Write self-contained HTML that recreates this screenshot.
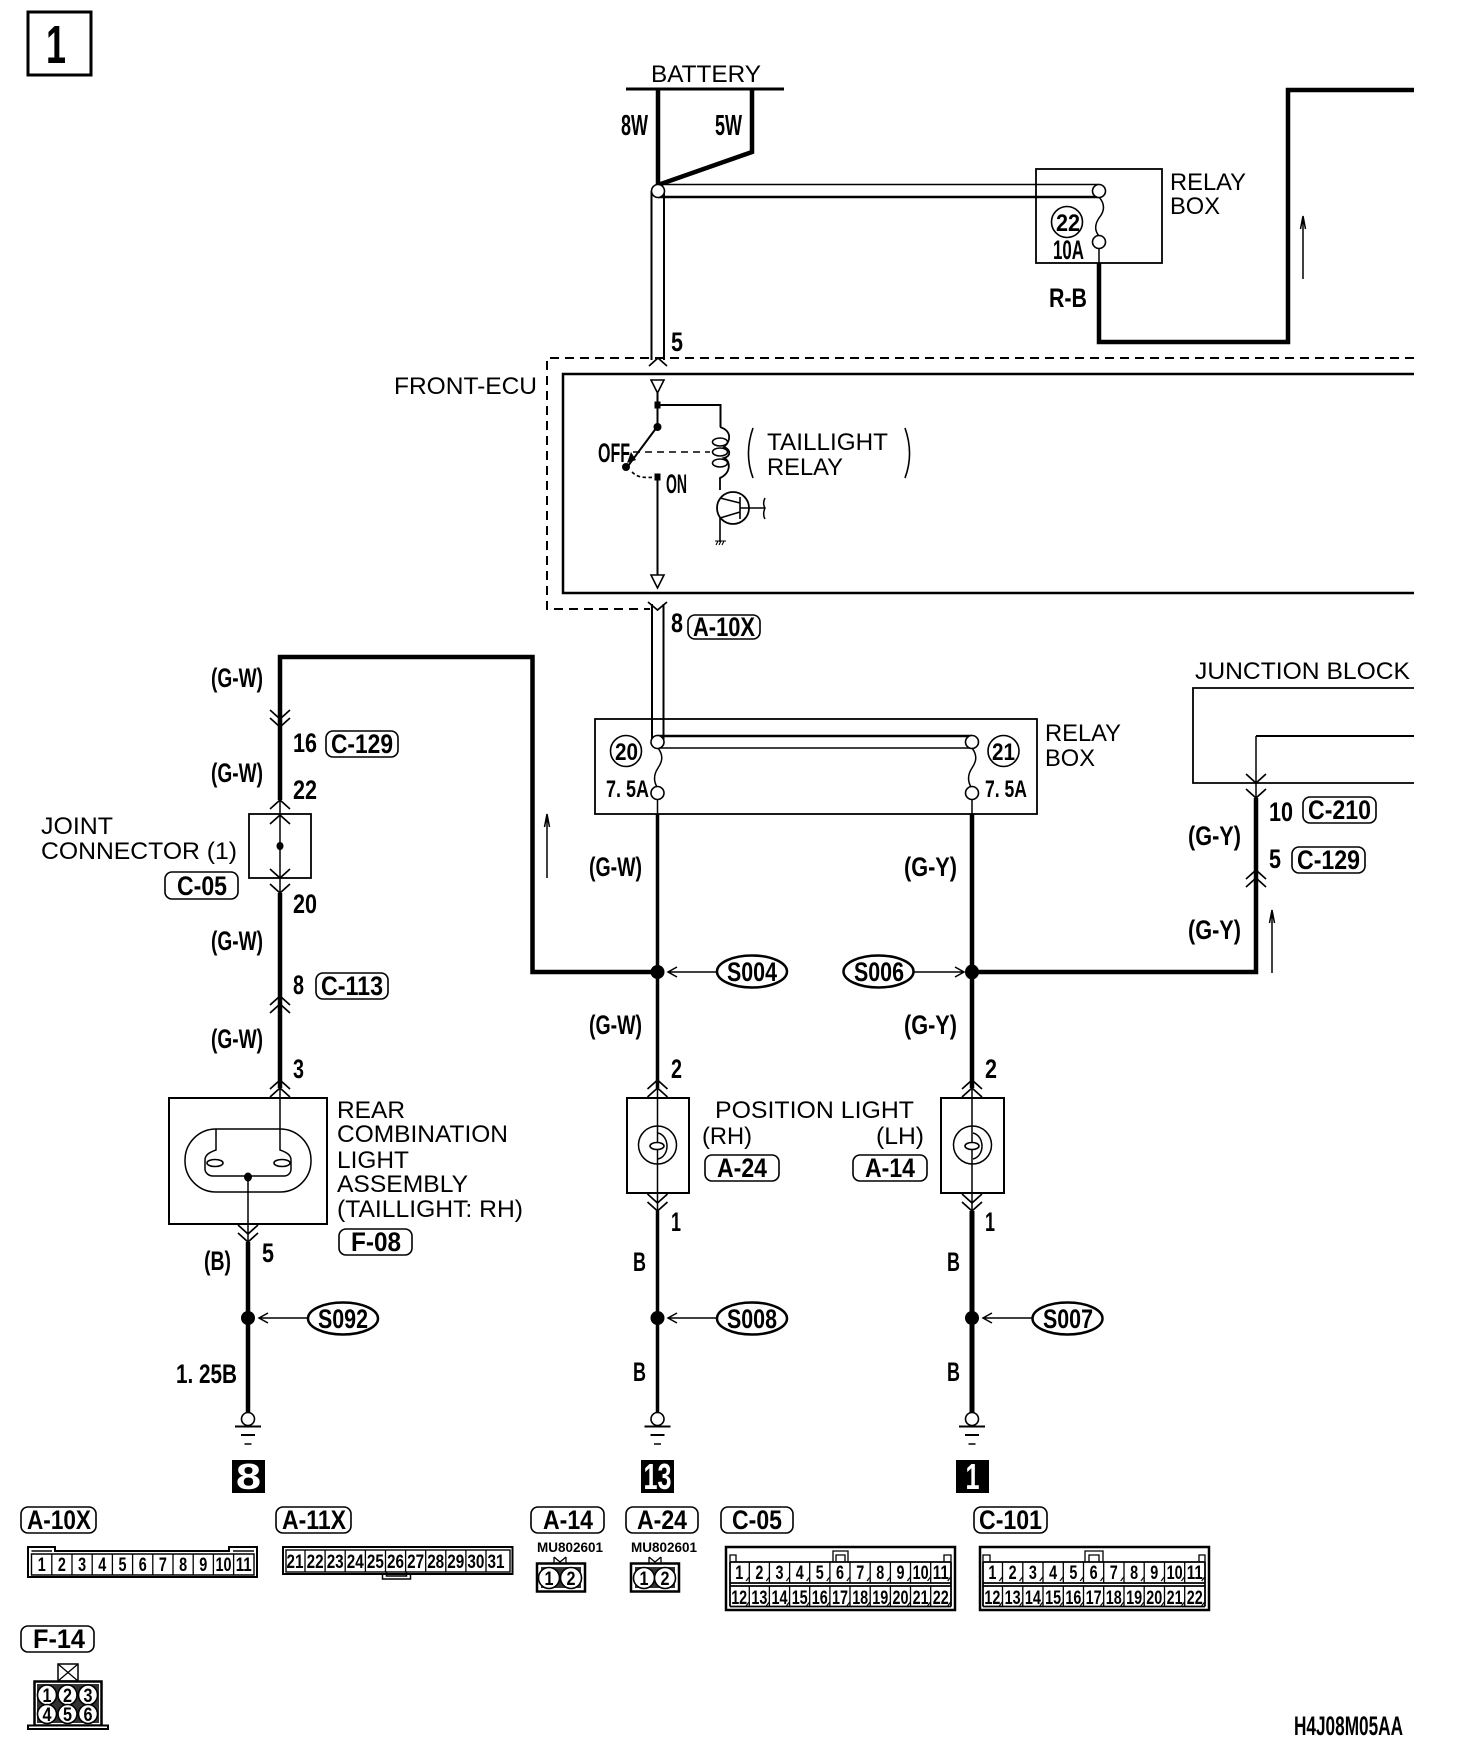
<!DOCTYPE html>
<html><head><meta charset="utf-8"><style>
html,body{margin:0;padding:0;background:#fff}
svg{display:block}
text{font-family:"Liberation Sans",sans-serif;fill:#000}
.t{font-size:24px}
.b{font-size:26.5px;font-weight:bold}
.s{font-size:24px}
.h{font-size:29px}
.c{font-size:19.5px;font-weight:bold;text-anchor:middle}
.m{font-size:14px;font-weight:bold}
.w{fill:#fff;font-size:36px;font-weight:bold;text-anchor:middle}
.l{fill:#fff;stroke:#000;stroke-width:1.6}
.k{fill:none;stroke:#000;stroke-width:1.6}
.th{fill:none;stroke:#000;stroke-width:4.5;stroke-linejoin:miter}
.n{fill:none;stroke:#000;stroke-width:1.5}
</style></head><body>
<svg xmlns="http://www.w3.org/2000/svg" width="1472" height="1754" viewBox="0 0 1472 1754">
<defs>
<path id="cd" d="M-10 -9 L0 0 L10 -9" fill="none" stroke="#000" stroke-width="1.7"/>
<path id="cu" d="M-10 9 L0 0 L10 9" fill="none" stroke="#000" stroke-width="1.7"/>
<g id="gnd"><circle cx="0" cy="0" r="6.5" fill="#fff" stroke="#000" stroke-width="1.6"/><path d="M-13 7.5H13" stroke="#000" stroke-width="2"/><path d="M-7 16H7" stroke="#000" stroke-width="2"/><path d="M-3.5 25H3.5" stroke="#000" stroke-width="1.5"/></g>
<pattern id="tk1" x="729.100" y="1562" width="20.160" height="25" patternUnits="userSpaceOnUse"><path d="M17 19L20 15" stroke="#000" stroke-width="1.200" fill="none"/></pattern>
<pattern id="tk2" x="982.300" y="1562" width="20.240" height="25" patternUnits="userSpaceOnUse"><path d="M17 19L20 15" stroke="#000" stroke-width="1.200" fill="none"/></pattern>
</defs>

<!-- page number box -->
<rect x="28" y="12" width="63" height="63" fill="none" stroke="#000" stroke-width="3"/>
<text x="56" y="63" font-size="54" text-anchor="middle" font-weight="bold" textLength="20" lengthAdjust="spacingAndGlyphs">1</text>

<!-- battery -->
<text class="t" x="651" y="82" textLength="110" lengthAdjust="spacingAndGlyphs">BATTERY</text>
<path d="M626 89H784" stroke="#000" stroke-width="3"/>
<path class="th" d="M658 89V185L752 152V89" stroke-width="4"/>
<text class="b h" x="621" y="135" textLength="27" lengthAdjust="spacingAndGlyphs">8W</text>
<text class="b h" x="715" y="135" textLength="27" lengthAdjust="spacingAndGlyphs">5W</text>

<!-- double wire -->
<path d="M658 184.5H1099" stroke="#000" stroke-width="1.5"/>
<path d="M658 197H1099" stroke="#000" stroke-width="2.5"/>
<path d="M651.5 191V360M664 191V360" stroke="#000" stroke-width="2"/>
<circle class="l" cx="658" cy="191" r="6.5"/>
<text class="b" x="671" y="351" textLength="12" lengthAdjust="spacingAndGlyphs">5</text>
<path d="M649 366L658 358L667 366" fill="none" stroke="#000" stroke-width="1.7"/>

<!-- relay box 22 -->
<rect x="1036" y="169" width="126" height="94" fill="none" stroke="#000" stroke-width="1.8"/>
<path d="M1099 197C1106 205 1104 212 1099 218C1095 224 1094 230 1099 236" class="n"/>
<circle class="l" cx="1099" cy="191" r="6.5"/>
<circle class="l" cx="1099" cy="242" r="6.5"/>
<path d="M1099 248V263" class="n"/>
<circle class="k" cx="1067" cy="222" r="15.5"/>
<text class="b s" x="1056" y="231" textLength="24" lengthAdjust="spacingAndGlyphs">22</text>
<text class="b" x="1053" y="259" textLength="31" lengthAdjust="spacingAndGlyphs">10A</text>
<text class="t" x="1170" y="190" textLength="76" lengthAdjust="spacingAndGlyphs">RELAY</text>
<text class="t" x="1170" y="214" textLength="50" lengthAdjust="spacingAndGlyphs">BOX</text>
<text class="b" x="1049" y="307" textLength="38" lengthAdjust="spacingAndGlyphs">R-B</text>
<path class="th" d="M1099 263V342H1288V90H1414" stroke-width="5"/>
<path d="M1303 279V216M1300.5 229L1303 216L1305.5 229" class="n"/>

<!-- ECU -->
<path d="M1414 358H547V609H650" fill="none" stroke="#000" stroke-width="2" stroke-dasharray="9 6"/>
<path d="M1414 374H563V593H1414" fill="none" stroke="#000" stroke-width="2.5"/>
<text class="t" x="394" y="394" textLength="143" lengthAdjust="spacingAndGlyphs">FRONT-ECU</text>

<path d="M651 380H664L657.5 393Z" fill="#fff" stroke="#000" stroke-width="1.6"/>
<path d="M651 575H664L657.5 588Z" fill="#fff" stroke="#000" stroke-width="1.6"/>
<path d="M657.5 393V427" stroke="#000" stroke-width="2"/>
<path d="M657.5 477V575" stroke="#000" stroke-width="2"/>
<path d="M657.5 405H720.500V427" fill="none" stroke="#000" stroke-width="2"/>
<rect x="654.500" y="401.500" width="6" height="7" />
<rect x="654.500" y="473.500" width="6" height="7" />
<circle cx="657.500" cy="427" r="4"/>
<circle cx="626" cy="467" r="4"/>
<path d="M657 427L628 466" stroke="#000" stroke-width="2"/>
<path d="M631 452L636 460L627 463Z"/>
<path d="M632 472C638 478 645 478 655 477" fill="none" stroke="#000" stroke-width="1.6" stroke-dasharray="3.500 2.500"/>
<path d="M633 452H710" stroke="#000" stroke-width="1.4" stroke-dasharray="7 5"/>
<path d="M720 427C732 431 731 441 724 447C731 450 731 456 724 458C731 461 731 473 720 478V490" fill="none" stroke="#000" stroke-width="1.800"/>
<ellipse class="k" cx="720" cy="442" rx="7.500" ry="4"/>
<ellipse class="k" cx="720" cy="452" rx="7.500" ry="4"/>
<ellipse class="k" cx="720" cy="463" rx="7.500" ry="4"/>
<text class="b" x="598" y="462" textLength="32" lengthAdjust="spacingAndGlyphs">OFF</text>
<text class="b" x="666" y="493" textLength="21" lengthAdjust="spacingAndGlyphs">ON</text>
<circle cx="733" cy="508" r="16" fill="none" stroke="#000" stroke-width="1.800"/>
<path d="M740 497V519M740 508H765M720 498L740 503M740 512L720 518M720 518V542" fill="none" stroke="#000" stroke-width="1.600"/>
<path d="M765 498C762 504 765 508 765 508C765 508 762 514 765 519" class="n"/>
<path d="M715 541H726M716 545L718 541M719 545L721 541M722 545L724 541" stroke="#000" stroke-width="1.100" fill="none"/>
<path d="M753 428C747 445 747 462 753 478" fill="none" stroke="#000" stroke-width="1.600"/>
<path d="M905 428C911 445 911 462 905 478" fill="none" stroke="#000" stroke-width="1.600"/>
<text class="t" x="767" y="450" textLength="121" lengthAdjust="spacingAndGlyphs">TAILLIGHT</text>
<text class="t" x="767" y="475" textLength="76" lengthAdjust="spacingAndGlyphs">RELAY</text>

<!-- double wire lower -->
<path d="M648 602L657.500 610L667 602" fill="none" stroke="#000" stroke-width="1.700"/>
<path d="M652 604V741M663.500 604V741" stroke="#000" stroke-width="2"/>
<text class="b" x="671" y="632" textLength="12" lengthAdjust="spacingAndGlyphs">8</text>
<rect class="k" x="688" y="615" width="72" height="24" rx="7"/>
<text class="b" x="693" y="636" textLength="62" lengthAdjust="spacingAndGlyphs">A-10X</text>

<!-- relay box 20 / 21 -->
<rect x="595" y="719" width="442" height="95" fill="none" stroke="#000" stroke-width="1.800"/>
<path d="M657 736H972" stroke="#000" stroke-width="2.500"/>
<path d="M657 748H972" stroke="#000" stroke-width="1.500"/>
<circle class="l" cx="657.500" cy="742" r="6.500"/>
<circle class="l" cx="657.500" cy="793" r="6.500"/>
<circle class="l" cx="972" cy="742" r="6.500"/>
<circle class="l" cx="972" cy="793" r="6.500"/>
<path d="M658 748C664 756 662 762 658 768C654 774 653 780 657 787" class="n"/>
<path d="M972 748C978 756 976 762 972 768C968 774 967 780 971 787" class="n"/>
<circle class="k" cx="626" cy="751" r="15.500"/>
<circle class="k" cx="1003.500" cy="751" r="15.500"/>
<text class="b s" x="615" y="760" textLength="23" lengthAdjust="spacingAndGlyphs">20</text>
<text class="b s" x="992" y="760" textLength="23" lengthAdjust="spacingAndGlyphs">21</text>
<text class="b s" x="606" y="797" textLength="43" lengthAdjust="spacingAndGlyphs">7. 5A</text>
<text class="b s" x="985" y="797" textLength="42" lengthAdjust="spacingAndGlyphs">7. 5A</text>
<text class="t" x="1045" y="741" textLength="76" lengthAdjust="spacingAndGlyphs">RELAY</text>
<text class="t" x="1045" y="766" textLength="50" lengthAdjust="spacingAndGlyphs">BOX</text>
<path d="M657.500 799V814M972 799V814" class="n"/>

<!-- left G-W wire -->
<path class="th" d="M280 727V657H532.500V972H657"/>
<path d="M547 878V814M544.500 827L547 814L549.500 827" class="n"/>
<path class="th" d="M280 727V800"/>
<use href="#cd" x="280" y="719"/><use href="#cd" x="280" y="727"/>
<rect x="249" y="814" width="62" height="64" fill="#fff" stroke="#000" stroke-width="1.800"/>
<path d="M280 800V893" class="n"/>
<ellipse cx="280" cy="846" rx="3.500" ry="4"/>
<use href="#cu" x="280" y="800"/><use href="#cu" x="280" y="815"/>
<use href="#cd" x="280" y="878"/><use href="#cd" x="280" y="893"/>
<path class="th" d="M280 893V1088"/>
<use href="#cu" x="280" y="996"/><use href="#cu" x="280" y="1004"/>
<use href="#cu" x="280" y="1080"/><use href="#cu" x="280" y="1088"/>

<text class="b" x="211" y="687" textLength="52" lengthAdjust="spacingAndGlyphs">(G-W)</text>
<text class="b" x="211" y="782" textLength="52" lengthAdjust="spacingAndGlyphs">(G-W)</text>
<text class="b" x="211" y="950" textLength="52" lengthAdjust="spacingAndGlyphs">(G-W)</text>
<text class="b" x="211" y="1048" textLength="52" lengthAdjust="spacingAndGlyphs">(G-W)</text>
<text class="b" x="293" y="752" textLength="24" lengthAdjust="spacingAndGlyphs">16</text>
<rect class="k" x="326" y="731" width="72" height="26" rx="7"/>
<text class="b" x="331" y="753" textLength="62" lengthAdjust="spacingAndGlyphs">C-129</text>
<text class="b" x="293" y="799" textLength="24" lengthAdjust="spacingAndGlyphs">22</text>
<text class="b" x="293" y="913" textLength="24" lengthAdjust="spacingAndGlyphs">20</text>
<text class="b" x="293" y="994" textLength="11" lengthAdjust="spacingAndGlyphs">8</text>
<rect class="k" x="316" y="973" width="72" height="26" rx="7"/>
<text class="b" x="321" y="995" textLength="62" lengthAdjust="spacingAndGlyphs">C-113</text>
<text class="b" x="293" y="1078" textLength="11" lengthAdjust="spacingAndGlyphs">3</text>
<text class="t" x="41" y="834" textLength="72" lengthAdjust="spacingAndGlyphs">JOINT</text>
<text class="t" x="41" y="859" textLength="196" lengthAdjust="spacingAndGlyphs">CONNECTOR (1)</text>
<rect class="k" x="165" y="872" width="73" height="27" rx="7"/>
<text class="b" x="177" y="895" textLength="50" lengthAdjust="spacingAndGlyphs">C-05</text>

<!-- rear combination light -->
<rect x="169" y="1098" width="158" height="126" fill="none" stroke="#000" stroke-width="2"/>
<rect class="n" x="185" y="1129" width="126" height="63" rx="31" ry="31"/>
<path d="M280 1088V1150C285 1152 291 1154 291 1160V1169C291 1173 288 1176 284 1176H213C209 1176 205 1173 205 1169V1160C205 1154 211 1152 216 1150V1129" class="n"/>
<ellipse class="l" cx="215" cy="1163" rx="8" ry="3.500" fill="#fff"/>
<ellipse class="l" cx="282" cy="1163" rx="8" ry="3.500" fill="#fff"/>
<path d="M248 1177V1242" class="n"/>
<ellipse cx="248" cy="1177" rx="4" ry="4.500"/>
<use href="#cd" x="248" y="1234"/><use href="#cd" x="248" y="1242"/>
<path class="th" d="M248 1242V1413"/>
<ellipse cx="248" cy="1318" rx="7" ry="7"/>
<use href="#gnd" x="248" y="1419"/>
<path d="M307 1318H260M268 1313L259 1318L268 1323" class="n"/>
<ellipse cx="343" cy="1318.500" rx="35" ry="16" fill="#fff" stroke="#000" stroke-width="2.500"/>
<text class="b" x="318" y="1328" textLength="50" lengthAdjust="spacingAndGlyphs">S092</text>
<text class="b" x="262" y="1262" textLength="12" lengthAdjust="spacingAndGlyphs">5</text>
<text class="b" x="204" y="1270" textLength="27" lengthAdjust="spacingAndGlyphs">(B)</text>
<text class="b" x="176" y="1383" textLength="61" lengthAdjust="spacingAndGlyphs">1. 25B</text>
<text class="t" x="337" y="1118" textLength="68" lengthAdjust="spacingAndGlyphs">REAR</text>
<text class="t" x="337" y="1142" textLength="171" lengthAdjust="spacingAndGlyphs">COMBINATION</text>
<text class="t" x="337" y="1168" textLength="72" lengthAdjust="spacingAndGlyphs">LIGHT</text>
<text class="t" x="337" y="1192" textLength="131" lengthAdjust="spacingAndGlyphs">ASSEMBLY</text>
<text class="t" x="337" y="1217" textLength="186" lengthAdjust="spacingAndGlyphs">(TAILLIGHT: RH)</text>
<rect class="k" x="339" y="1229" width="73" height="26" rx="7"/>
<text class="b" x="351" y="1251" textLength="50" lengthAdjust="spacingAndGlyphs">F-08</text>
<rect x="232" y="1460" width="33" height="33"/>
<text class="w" x="248.500" y="1489" textLength="25" lengthAdjust="spacingAndGlyphs">8</text>

<!-- middle wire -->
<path d="M657.500 814V1088" stroke="#000" stroke-width="3.500"/>
<ellipse cx="657.500" cy="972" rx="7" ry="7"/>
<path d="M716 972H669M677 967L668 972L677 977" class="n"/>
<ellipse cx="752" cy="971.500" rx="35" ry="16" fill="#fff" stroke="#000" stroke-width="2.500"/>
<text class="b" x="727" y="981" textLength="50" lengthAdjust="spacingAndGlyphs">S004</text>
<text class="b" x="589" y="876" textLength="53" lengthAdjust="spacingAndGlyphs">(G-W)</text>
<text class="b" x="589" y="1034" textLength="53" lengthAdjust="spacingAndGlyphs">(G-W)</text>
<text class="b" x="671" y="1078" textLength="11" lengthAdjust="spacingAndGlyphs">2</text>
<use href="#cu" x="657.500" y="1080"/><use href="#cu" x="657.500" y="1088"/>
<rect x="627" y="1098" width="62" height="95" fill="#fff" stroke="#000" stroke-width="2"/>
<ellipse class="n" cx="657.500" cy="1145" rx="19" ry="19"/>
<path d="M657.500 1080V1211" stroke="#000" stroke-width="1.500"/>
<path d="M658 1133C670 1136 670 1156 658 1159" class="n"/>
<ellipse class="l" cx="657" cy="1146" rx="7" ry="3.500" fill="#fff"/>
<use href="#cd" x="657.500" y="1203"/><use href="#cd" x="657.500" y="1211"/>
<path d="M657.500 1211V1413" stroke="#000" stroke-width="3.500"/>
<ellipse cx="657.500" cy="1318" rx="7" ry="7"/>
<use href="#gnd" x="657.500" y="1419"/>
<path d="M716 1318H669M677 1313L668 1318L677 1323" class="n"/>
<ellipse cx="752" cy="1318.500" rx="35" ry="16" fill="#fff" stroke="#000" stroke-width="2.500"/>
<text class="b" x="727" y="1328" textLength="50" lengthAdjust="spacingAndGlyphs">S008</text>
<text class="b" x="671" y="1231" font-weight="normal" textLength="10" lengthAdjust="spacingAndGlyphs">1</text>
<text class="b" x="633" y="1271" textLength="13" lengthAdjust="spacingAndGlyphs">B</text>
<text class="b" x="633" y="1381" textLength="13" lengthAdjust="spacingAndGlyphs">B</text>
<rect x="641" y="1460" width="33" height="33"/>
<text class="w" x="657.500" y="1489" textLength="28" lengthAdjust="spacingAndGlyphs">13</text>

<!-- position light labels -->
<text class="t" x="715" y="1118" textLength="199" lengthAdjust="spacingAndGlyphs">POSITION LIGHT</text>
<text class="t" x="702" y="1144" textLength="50" lengthAdjust="spacingAndGlyphs">(RH)</text>
<text class="t" x="876" y="1144" textLength="48" lengthAdjust="spacingAndGlyphs">(LH)</text>
<rect class="k" x="705" y="1155" width="74" height="26" rx="7"/>
<text class="b" x="717" y="1177" textLength="50" lengthAdjust="spacingAndGlyphs">A-24</text>
<rect class="k" x="853" y="1155" width="74" height="26" rx="7"/>
<text class="b" x="865" y="1177" textLength="50" lengthAdjust="spacingAndGlyphs">A-14</text>

<!-- right G-Y wire -->
<path class="th" d="M972 814V1088" stroke-width="5"/>
<path class="th" d="M972 972H1256V798"/>
<ellipse cx="972" cy="972" rx="7" ry="7.500"/>
<path d="M914 972H963M955 967L964 972L955 977" class="n"/>
<ellipse cx="878.500" cy="971.500" rx="35" ry="16" fill="#fff" stroke="#000" stroke-width="2.500"/>
<text class="b" x="854" y="981" textLength="50" lengthAdjust="spacingAndGlyphs">S006</text>
<text class="b" x="904" y="876" textLength="53" lengthAdjust="spacingAndGlyphs">(G-Y)</text>
<text class="b" x="904" y="1034" textLength="53" lengthAdjust="spacingAndGlyphs">(G-Y)</text>
<text class="b" x="985" y="1078" textLength="12" lengthAdjust="spacingAndGlyphs">2</text>
<use href="#cu" x="972" y="1080"/><use href="#cu" x="972" y="1088"/>
<rect x="941" y="1098" width="63" height="95" fill="#fff" stroke="#000" stroke-width="2"/>
<ellipse class="n" cx="972.500" cy="1145" rx="19" ry="19"/>
<path d="M972 1080V1211" stroke="#000" stroke-width="1.500"/>
<path d="M973 1133C985 1136 985 1156 973 1159" class="n"/>
<ellipse class="l" cx="972" cy="1146" rx="7" ry="3.500" fill="#fff"/>
<use href="#cd" x="972" y="1203"/><use href="#cd" x="972" y="1211"/>
<path d="M972 1211V1413" stroke="#000" stroke-width="5"/>
<ellipse cx="972" cy="1318" rx="7" ry="7"/>
<use href="#gnd" x="972" y="1419"/>
<path d="M1032 1318H984M992 1313L983 1318L992 1323" class="n"/>
<ellipse cx="1067.500" cy="1318.500" rx="35" ry="16" fill="#fff" stroke="#000" stroke-width="2.500"/>
<text class="b" x="1043" y="1328" textLength="50" lengthAdjust="spacingAndGlyphs">S007</text>
<text class="b" x="985" y="1231" font-weight="normal" textLength="10" lengthAdjust="spacingAndGlyphs">1</text>
<text class="b" x="947" y="1271" textLength="13" lengthAdjust="spacingAndGlyphs">B</text>
<text class="b" x="947" y="1381" textLength="13" lengthAdjust="spacingAndGlyphs">B</text>
<rect x="956" y="1460" width="33" height="33"/>
<text class="w" x="972.500" y="1489" textLength="14" lengthAdjust="spacingAndGlyphs">1</text>

<!-- junction block -->
<text class="t" x="1195" y="679" textLength="215" lengthAdjust="spacingAndGlyphs">JUNCTION BLOCK</text>
<path d="M1414 688H1193V783H1414" fill="none" stroke="#000" stroke-width="1.800"/>
<path d="M1414 736H1256" stroke="#000" stroke-width="2"/>
<path d="M1256 736V798" class="n"/>
<use href="#cd" x="1256" y="783"/><use href="#cd" x="1256" y="798"/>
<use href="#cu" x="1256" y="870"/><use href="#cu" x="1256" y="878"/>
<text class="b" x="1269" y="821" textLength="24" lengthAdjust="spacingAndGlyphs">10</text>
<rect class="k" x="1303" y="797" width="73" height="26" rx="7"/>
<text class="b" x="1308" y="819" textLength="63" lengthAdjust="spacingAndGlyphs">C-210</text>
<text class="b" x="1269" y="868" textLength="12" lengthAdjust="spacingAndGlyphs">5</text>
<rect class="k" x="1292" y="847" width="73" height="26" rx="7"/>
<text class="b" x="1297" y="869" textLength="63" lengthAdjust="spacingAndGlyphs">C-129</text>
<text class="b" x="1188" y="845" textLength="53" lengthAdjust="spacingAndGlyphs">(G-Y)</text>
<text class="b" x="1188" y="939" textLength="53" lengthAdjust="spacingAndGlyphs">(G-Y)</text>
<path d="M1272 973V910M1269.500 923L1272 910L1274.500 923" class="n"/>

<!-- connector labels -->
<rect class="k" x="21" y="1507" width="75" height="26" rx="7"/>
<text class="b" x="27" y="1529" textLength="64" lengthAdjust="spacingAndGlyphs">A-10X</text>
<rect class="k" x="276" y="1507" width="75" height="26" rx="7"/>
<text class="b" x="282" y="1529" textLength="64" lengthAdjust="spacingAndGlyphs">A-11X</text>
<rect class="k" x="531" y="1507" width="73" height="26" rx="7"/>
<text class="b" x="543" y="1529" textLength="50" lengthAdjust="spacingAndGlyphs">A-14</text>
<rect class="k" x="626" y="1507" width="72" height="26" rx="7"/>
<text class="b" x="637" y="1529" textLength="50" lengthAdjust="spacingAndGlyphs">A-24</text>
<rect class="k" x="721" y="1507" width="72" height="26" rx="7"/>
<text class="b" x="732" y="1529" textLength="50" lengthAdjust="spacingAndGlyphs">C-05</text>
<rect class="k" x="974" y="1507" width="73" height="26" rx="7"/>
<text class="b" x="979" y="1529" textLength="63" lengthAdjust="spacingAndGlyphs">C-101</text>
<rect class="k" x="21" y="1626" width="73" height="26" rx="7"/>
<text class="b" x="33" y="1648" textLength="52" lengthAdjust="spacingAndGlyphs">F-14</text>

<!-- A-10X connector -->
<path d="M28 1547H55V1551H229V1547H257V1577H28Z" fill="none" stroke="#000" stroke-width="2"/>
<path d="M31.500 1551H52M233 1551H254M31.500 1554H254V1575H31.500Z" fill="none" stroke="#000" stroke-width="1.400"/>
<path d="M51.800 1554V1575M72 1554V1575M92.200 1554V1575M112.400 1554V1575M132.600 1554V1575M152.800 1554V1575M173 1554V1575M193.200 1554V1575M213.400 1554V1575M233.600 1554V1575" stroke="#000" stroke-width="1.300"/>
<g class="cells">
<text class="c" x="41.700" y="1571" textLength="8" lengthAdjust="spacingAndGlyphs">1</text>
<text class="c" x="61.900" y="1571" textLength="8" lengthAdjust="spacingAndGlyphs">2</text>
<text class="c" x="82.100" y="1571" textLength="8" lengthAdjust="spacingAndGlyphs">3</text>
<text class="c" x="102.300" y="1571" textLength="8" lengthAdjust="spacingAndGlyphs">4</text>
<text class="c" x="122.500" y="1571" textLength="8" lengthAdjust="spacingAndGlyphs">5</text>
<text class="c" x="142.700" y="1571" textLength="8" lengthAdjust="spacingAndGlyphs">6</text>
<text class="c" x="162.900" y="1571" textLength="8" lengthAdjust="spacingAndGlyphs">7</text>
<text class="c" x="183.100" y="1571" textLength="8" lengthAdjust="spacingAndGlyphs">8</text>
<text class="c" x="203.300" y="1571" textLength="8" lengthAdjust="spacingAndGlyphs">9</text>
<text class="c" x="223.500" y="1571" textLength="16" lengthAdjust="spacingAndGlyphs">10</text>
<text class="c" x="243.700" y="1571" textLength="16" lengthAdjust="spacingAndGlyphs">11</text>
</g>

<!-- A-11X connector -->
<rect x="283" y="1547" width="229.500" height="27" fill="none" stroke="#000" stroke-width="2"/>
<rect x="286" y="1550" width="224" height="22" fill="none" stroke="#000" stroke-width="1.400"/>
<path d="M382.500 1574V1579H410.500V1574M386.500 1572V1576H406.500V1572" fill="none" stroke="#000" stroke-width="1.500"/>
<path d="M305 1550V1572M325.100 1550V1572M345.200 1550V1572M365.400 1550V1572M385.500 1550V1572M405.600 1550V1572M425.700 1550V1572M445.800 1550V1572M465.900 1550V1572M486 1550V1572" stroke="#000" stroke-width="1.300"/>
<text class="c" x="295" y="1568" textLength="17" lengthAdjust="spacingAndGlyphs">21</text>
<text class="c" x="315.100" y="1568" textLength="17" lengthAdjust="spacingAndGlyphs">22</text>
<text class="c" x="335.200" y="1568" textLength="17" lengthAdjust="spacingAndGlyphs">23</text>
<text class="c" x="355.300" y="1568" textLength="17" lengthAdjust="spacingAndGlyphs">24</text>
<text class="c" x="375.400" y="1568" textLength="17" lengthAdjust="spacingAndGlyphs">25</text>
<text class="c" x="395.500" y="1568" textLength="17" lengthAdjust="spacingAndGlyphs">26</text>
<text class="c" x="415.600" y="1568" textLength="17" lengthAdjust="spacingAndGlyphs">27</text>
<text class="c" x="435.700" y="1568" textLength="17" lengthAdjust="spacingAndGlyphs">28</text>
<text class="c" x="455.800" y="1568" textLength="17" lengthAdjust="spacingAndGlyphs">29</text>
<text class="c" x="475.900" y="1568" textLength="17" lengthAdjust="spacingAndGlyphs">30</text>
<text class="c" x="496" y="1568" textLength="17" lengthAdjust="spacingAndGlyphs">31</text>

<!-- A-14 / A-24 -->
<text class="m" x="537" y="1552" textLength="66" lengthAdjust="spacingAndGlyphs">MU802601</text>
<text class="m" x="631" y="1552" textLength="66" lengthAdjust="spacingAndGlyphs">MU802601</text>
<path d="M554 1557L560 1562L566 1557M554 1557V1563M566 1557V1563" fill="none" stroke="#000" stroke-width="1.300"/>
<path d="M649 1557L655 1562L661 1557M649 1557V1563M661 1557V1563" fill="none" stroke="#000" stroke-width="1.300"/>
<rect x="537" y="1563.500" width="48" height="28" fill="#fff" stroke="#000" stroke-width="2.500"/>
<rect x="541" y="1567" width="40" height="21" fill="#333"/>
<ellipse class="l" cx="549" cy="1578" rx="10.500" ry="10.500"/>
<ellipse class="l" cx="571" cy="1578" rx="10.500" ry="10.500"/>
<rect x="631" y="1563.500" width="48" height="28" fill="#fff" stroke="#000" stroke-width="2.500"/>
<rect x="635" y="1567" width="40" height="21" fill="#333"/>
<ellipse class="l" cx="644" cy="1578" rx="10.500" ry="10.500"/>
<ellipse class="l" cx="665" cy="1578" rx="10.500" ry="10.500"/>
<text class="c" x="549" y="1585" textLength="9" lengthAdjust="spacingAndGlyphs">1</text>
<text class="c" x="571" y="1585" textLength="9" lengthAdjust="spacingAndGlyphs">2</text>
<text class="c" x="644" y="1585" textLength="9" lengthAdjust="spacingAndGlyphs">1</text>
<text class="c" x="665" y="1585" textLength="9" lengthAdjust="spacingAndGlyphs">2</text>

<!-- F-14 -->
<rect x="58" y="1664" width="20" height="17" fill="none" stroke="#000" stroke-width="1.500"/>
<path d="M58 1664L78 1681M78 1664L58 1681" stroke="#000" stroke-width="1.300"/>
<rect x="34.500" y="1681.500" width="67" height="44" fill="#fff" stroke="#000" stroke-width="2.500"/>
<rect x="37" y="1684" width="62" height="39" fill="#333"/>
<path d="M28 1725.500H108V1729H28Z" fill="#fff" stroke="#000" stroke-width="2"/>
<ellipse class="l" cx="47" cy="1695" rx="9.500" ry="10"/>
<ellipse class="l" cx="67.500" cy="1695" rx="9.500" ry="10"/>
<ellipse class="l" cx="88" cy="1695" rx="9.500" ry="10"/>
<ellipse class="l" cx="47" cy="1714" rx="9.500" ry="9.500"/>
<ellipse class="l" cx="67.500" cy="1714" rx="9.500" ry="9.500"/>
<ellipse class="l" cx="88" cy="1714" rx="9.500" ry="9.500"/>
<text class="c" x="47" y="1702" textLength="9" lengthAdjust="spacingAndGlyphs">1</text>
<text class="c" x="67.500" y="1702" textLength="9" lengthAdjust="spacingAndGlyphs">2</text>
<text class="c" x="88" y="1702" textLength="9" lengthAdjust="spacingAndGlyphs">3</text>
<text class="c" x="47" y="1721" textLength="9" lengthAdjust="spacingAndGlyphs">4</text>
<text class="c" x="67.500" y="1721" textLength="9" lengthAdjust="spacingAndGlyphs">5</text>
<text class="c" x="88" y="1721" textLength="9" lengthAdjust="spacingAndGlyphs">6</text>

<!-- C-05 connector -->
<rect x="726" y="1547" width="229" height="63" fill="none" stroke="#000" stroke-width="2.500"/>
<path d="M730 1562H951M730 1583H951M730 1586H951M730 1606.500H951M730 1562V1606.500M951 1562V1606.500" fill="none" stroke="#000" stroke-width="1.800"/>
<path d="M833 1562V1551H848V1562M836 1562V1555H845V1562M730 1562V1555H736V1562M944 1562V1555H951V1562" fill="none" stroke="#000" stroke-width="1.300"/>
<path d="M749.300 1562V1583M769.400 1562V1583M789.600 1562V1583M809.700 1562V1583M829.900 1562V1583M850 1562V1583M870.200 1562V1583M890.400 1562V1583M910.500 1562V1583M930.700 1562V1583M749.300 1586V1606M769.400 1586V1606M789.600 1586V1606M809.700 1586V1606M829.900 1586V1606M850 1586V1606M870.200 1586V1606M890.400 1586V1606M910.500 1586V1606M930.700 1586V1606" stroke="#000" stroke-width="1.300"/>
<rect x="730" y="1562" width="221" height="45" fill="url(#tk1)"/>
<text class="c" x="739.200" y="1579" textLength="8" lengthAdjust="spacingAndGlyphs">1</text>
<text class="c" x="759.400" y="1579" textLength="8" lengthAdjust="spacingAndGlyphs">2</text>
<text class="c" x="779.500" y="1579" textLength="8" lengthAdjust="spacingAndGlyphs">3</text>
<text class="c" x="799.700" y="1579" textLength="8" lengthAdjust="spacingAndGlyphs">4</text>
<text class="c" x="819.800" y="1579" textLength="8" lengthAdjust="spacingAndGlyphs">5</text>
<text class="c" x="840" y="1579" textLength="8" lengthAdjust="spacingAndGlyphs">6</text>
<text class="c" x="860.200" y="1579" textLength="8" lengthAdjust="spacingAndGlyphs">7</text>
<text class="c" x="880.300" y="1579" textLength="8" lengthAdjust="spacingAndGlyphs">8</text>
<text class="c" x="900.500" y="1579" textLength="8" lengthAdjust="spacingAndGlyphs">9</text>
<text class="c" x="920.600" y="1579" textLength="16" lengthAdjust="spacingAndGlyphs">10</text>
<text class="c" x="940.800" y="1579" textLength="16" lengthAdjust="spacingAndGlyphs">11</text>
<text class="c" x="739.200" y="1604" textLength="16" lengthAdjust="spacingAndGlyphs">12</text>
<text class="c" x="759.400" y="1604" textLength="16" lengthAdjust="spacingAndGlyphs">13</text>
<text class="c" x="779.500" y="1604" textLength="16" lengthAdjust="spacingAndGlyphs">14</text>
<text class="c" x="799.700" y="1604" textLength="16" lengthAdjust="spacingAndGlyphs">15</text>
<text class="c" x="819.800" y="1604" textLength="16" lengthAdjust="spacingAndGlyphs">16</text>
<text class="c" x="840" y="1604" textLength="16" lengthAdjust="spacingAndGlyphs">17</text>
<text class="c" x="860.200" y="1604" textLength="16" lengthAdjust="spacingAndGlyphs">18</text>
<text class="c" x="880.300" y="1604" textLength="16" lengthAdjust="spacingAndGlyphs">19</text>
<text class="c" x="900.500" y="1604" textLength="16" lengthAdjust="spacingAndGlyphs">20</text>
<text class="c" x="920.600" y="1604" textLength="16" lengthAdjust="spacingAndGlyphs">21</text>
<text class="c" x="940.800" y="1604" textLength="16" lengthAdjust="spacingAndGlyphs">22</text>

<!-- C-101 connector -->
<rect x="980" y="1547" width="229" height="63" fill="none" stroke="#000" stroke-width="2.500"/>
<path d="M983 1562H1205M983 1583H1205M983 1586H1205M983 1606.500H1205M983 1562V1606.500M1205 1562V1606.500" fill="none" stroke="#000" stroke-width="1.800"/>
<path d="M1085 1562V1551H1103V1562M1089 1562V1555H1099V1562M983 1562V1555H990V1562M1199 1562V1555H1205V1562" fill="none" stroke="#000" stroke-width="1.300"/>
<path d="M1002.500 1562V1583M1022.800 1562V1583M1043 1562V1583M1063.300 1562V1583M1083.500 1562V1583M1103.700 1562V1583M1124 1562V1583M1144.200 1562V1583M1164.500 1562V1583M1184.700 1562V1583M1002.500 1586V1606M1022.800 1586V1606M1043 1586V1606M1063.300 1586V1606M1083.500 1586V1606M1103.700 1586V1606M1124 1586V1606M1144.200 1586V1606M1164.500 1586V1606M1184.700 1586V1606" stroke="#000" stroke-width="1.300"/>
<rect x="983" y="1562" width="222" height="45" fill="url(#tk2)"/>
<text class="c" x="992.400" y="1579" textLength="8" lengthAdjust="spacingAndGlyphs">1</text>
<text class="c" x="1012.600" y="1579" textLength="8" lengthAdjust="spacingAndGlyphs">2</text>
<text class="c" x="1032.900" y="1579" textLength="8" lengthAdjust="spacingAndGlyphs">3</text>
<text class="c" x="1053.100" y="1579" textLength="8" lengthAdjust="spacingAndGlyphs">4</text>
<text class="c" x="1073.400" y="1579" textLength="8" lengthAdjust="spacingAndGlyphs">5</text>
<text class="c" x="1093.600" y="1579" textLength="8" lengthAdjust="spacingAndGlyphs">6</text>
<text class="c" x="1113.800" y="1579" textLength="8" lengthAdjust="spacingAndGlyphs">7</text>
<text class="c" x="1134.100" y="1579" textLength="8" lengthAdjust="spacingAndGlyphs">8</text>
<text class="c" x="1154.300" y="1579" textLength="8" lengthAdjust="spacingAndGlyphs">9</text>
<text class="c" x="1174.600" y="1579" textLength="16" lengthAdjust="spacingAndGlyphs">10</text>
<text class="c" x="1194.800" y="1579" textLength="16" lengthAdjust="spacingAndGlyphs">11</text>
<text class="c" x="992.400" y="1604" textLength="16" lengthAdjust="spacingAndGlyphs">12</text>
<text class="c" x="1012.600" y="1604" textLength="16" lengthAdjust="spacingAndGlyphs">13</text>
<text class="c" x="1032.900" y="1604" textLength="16" lengthAdjust="spacingAndGlyphs">14</text>
<text class="c" x="1053.100" y="1604" textLength="16" lengthAdjust="spacingAndGlyphs">15</text>
<text class="c" x="1073.400" y="1604" textLength="16" lengthAdjust="spacingAndGlyphs">16</text>
<text class="c" x="1093.600" y="1604" textLength="16" lengthAdjust="spacingAndGlyphs">17</text>
<text class="c" x="1113.800" y="1604" textLength="16" lengthAdjust="spacingAndGlyphs">18</text>
<text class="c" x="1134.100" y="1604" textLength="16" lengthAdjust="spacingAndGlyphs">19</text>
<text class="c" x="1154.300" y="1604" textLength="16" lengthAdjust="spacingAndGlyphs">20</text>
<text class="c" x="1174.600" y="1604" textLength="16" lengthAdjust="spacingAndGlyphs">21</text>
<text class="c" x="1194.800" y="1604" textLength="16" lengthAdjust="spacingAndGlyphs">22</text>

<text class="b" x="1294" y="1735" textLength="109" lengthAdjust="spacingAndGlyphs">H4J08M05AA</text>
</svg>
</body></html>
